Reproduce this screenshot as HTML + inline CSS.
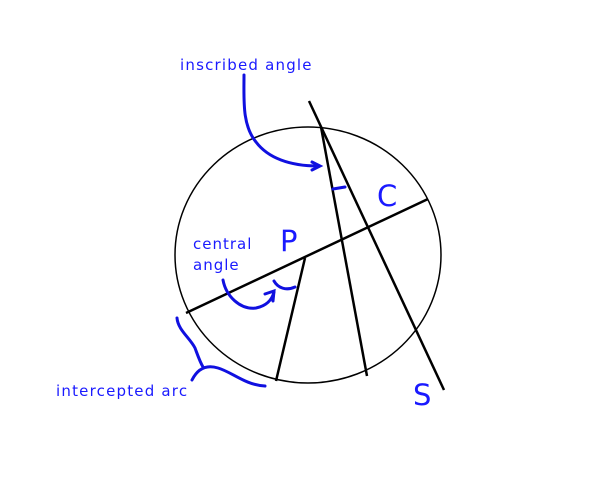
<!DOCTYPE html>
<html><head><style>body{margin:0;background:#fff}svg{display:block}</style></head><body>
<svg width="600" height="500" xmlns="http://www.w3.org/2000/svg" font-family="DejaVu Sans, sans-serif">
<ellipse cx="308" cy="255" rx="133" ry="128" fill="none" stroke="#000" stroke-width="1.5"/>
<g stroke="#000" stroke-width="2.5" fill="none">
<line x1="186" y1="313" x2="428" y2="199"/>
<line x1="309" y1="101" x2="444" y2="390"/>
<line x1="321" y1="127" x2="367" y2="376"/>
<line x1="305" y1="258" x2="276" y2="381"/>
</g>
<g stroke="#1010e0" stroke-width="3" fill="none" stroke-linecap="round">
<path d="M244 75 C244 100 242 125 256 142 C268 158 290 166 318 166"/>
<path d="M312 162 L320 166 L312 170"/>
<path d="M223 280 C226 296 240 310 256 308 C266 306 272 300 274 292"/>
<path d="M265 294 L274 291 L273 301"/>
<path d="M274 281 C278 288 286 291 295 287"/>
<path d="M333 189 L345 187"/>
<path d="M177 318 C178 330 190 338 195 348 C198 356 200 362 203 367 M192 380 C197 370 205 364 218 368 C232 372 245 385 265 386"/>
</g>
<g fill="#1a1aff">
<text x="180" y="70" font-size="15" letter-spacing="1.2">inscribed angle</text>
<text x="193" y="249" font-size="15" letter-spacing="1">central</text>
<text x="193" y="270" font-size="15" letter-spacing="1">angle</text>
<text x="56" y="396" font-size="15" letter-spacing="1.2">intercepted arc</text>
<text x="280" y="251" font-size="29">P</text>
<text x="377" y="206" font-size="29">C</text>
<text x="413" y="405" font-size="29">S</text>
</g>
</svg>
</body></html>
